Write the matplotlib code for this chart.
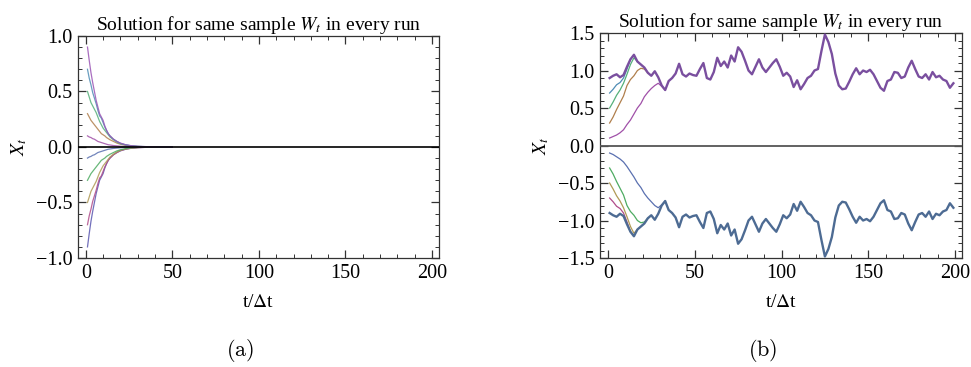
import numpy as np
import matplotlib
matplotlib.use("Agg")
import matplotlib.pyplot as plt
from matplotlib.ticker import MultipleLocator, FuncFormatter

plt.rcParams['font.family'] = ['Liberation Serif', 'DejaVu Serif']
plt.rcParams['mathtext.fontset'] = 'stix'

# ---------------- data: panel (a), decaying solutions ----------------
t_a = [1, 2, 3, 4, 5, 6, 7, 8, 9, 10, 11, 12, 13, 14, 16, 18, 20, 23, 26, 30, 35, 40, 50]

a_p09 = [0.90, 0.78, 0.67, 0.58, 0.50, 0.42, 0.36, 0.30, 0.27, 0.24, 0.19, 0.15, 0.12, 0.10,
         0.07, 0.05, 0.035, 0.02, 0.012, 0.006, 0.003, 0.001, 0.0]
a_p07 = [0.70, 0.62, 0.56, 0.49, 0.44, 0.39, 0.33, 0.28, 0.26, 0.22, 0.18, 0.15, 0.12, 0.10,
         0.07, 0.05, 0.033, 0.02, 0.012, 0.006, 0.003, 0.001, 0.0]
a_p05 = [0.50, 0.45, 0.40, 0.37, 0.34, 0.31, 0.27, 0.23, 0.20, 0.17, 0.15, 0.13, 0.11, 0.09,
         0.065, 0.045, 0.03, 0.018, 0.01, 0.005, 0.002, 0.001, 0.0]
a_p03 = [0.30, 0.27, 0.24, 0.22, 0.20, 0.18, 0.16, 0.14, 0.12, 0.11, 0.10, 0.085, 0.075, 0.065,
         0.05, 0.035, 0.025, 0.015, 0.008, 0.004, 0.002, 0.001, 0.0]
a_p01 = [0.10, 0.09, 0.085, 0.075, 0.07, 0.06, 0.05, 0.045, 0.04, 0.035, 0.03, 0.025, 0.02, 0.018,
         0.013, 0.01, 0.007, 0.004, 0.002, 0.001, 0.0005, 0.0, 0.0]
a_m01 = [-0.10, -0.09, -0.085, -0.075, -0.07, -0.06, -0.05, -0.045, -0.04, -0.035, -0.03, -0.025, -0.02, -0.018,
         -0.013, -0.01, -0.007, -0.004, -0.002, -0.001, -0.0005, 0.0, 0.0]
a_m03 = [-0.30, -0.27, -0.24, -0.22, -0.20, -0.18, -0.16, -0.14, -0.12, -0.11, -0.10, -0.085, -0.075, -0.065,
         -0.05, -0.035, -0.025, -0.015, -0.008, -0.004, -0.002, -0.001, 0.0]
a_m05 = [-0.50, -0.45, -0.40, -0.37, -0.34, -0.31, -0.27, -0.23, -0.20, -0.17, -0.15, -0.13, -0.11, -0.09,
         -0.065, -0.045, -0.03, -0.018, -0.01, -0.005, -0.002, -0.001, 0.0]
a_m07 = [-0.70, -0.62, -0.56, -0.49, -0.44, -0.39, -0.33, -0.28, -0.26, -0.22, -0.18, -0.15, -0.12, -0.10,
         -0.07, -0.05, -0.033, -0.02, -0.012, -0.006, -0.003, -0.001, 0.0]
a_m09 = [-0.90, -0.78, -0.67, -0.58, -0.50, -0.42, -0.36, -0.30, -0.27, -0.24, -0.19, -0.15, -0.12, -0.10,
         -0.07, -0.05, -0.035, -0.02, -0.012, -0.006, -0.003, -0.001, 0.0]

# ---------------- data: panel (b), common path after convergence ----------------
t_b = list(range(1, 200, 2))

b_upper = [0.90, 0.93, 0.95, 0.91, 0.94, 1.05, 1.15, 1.21, 1.12, 1.08,
           1.04, 0.97, 0.93, 0.99, 0.91, 0.80, 0.74, 0.86, 0.90, 0.96,
           1.09, 0.95, 0.92, 0.96, 0.94, 0.93, 1.02, 1.10, 0.90, 0.88,
           0.98, 1.17, 1.06, 1.12, 1.04, 1.20, 1.12, 1.31, 1.25, 1.13,
           1.00, 0.95, 1.05, 1.15, 1.04, 0.98, 1.04, 1.10, 1.15, 1.05,
           0.93, 0.97, 0.92, 0.78, 0.87, 0.75, 0.82, 0.90, 0.93, 1.00,
           1.02, 1.26, 1.48, 1.38, 1.22, 0.96, 0.80, 0.75, 0.76, 0.85,
           0.95, 1.03, 0.95, 1.00, 0.98, 1.01, 0.95, 0.86, 0.77, 0.73,
           0.86, 0.88, 0.98, 0.97, 0.90, 0.92, 1.04, 1.13, 1.02, 0.92,
           0.90, 0.95, 0.88, 0.98, 0.91, 0.93, 0.88, 0.86, 0.77, 0.83]

b_lower = [-0.90, -0.93, -0.95, -0.91, -0.94, -1.05, -1.15, -1.21, -1.12, -1.08,
           -1.04, -0.97, -0.93, -0.99, -0.91, -0.80, -0.74, -0.86, -0.90, -0.96,
           -1.09, -0.95, -0.92, -0.96, -0.94, -0.93, -1.02, -1.10, -0.90, -0.88,
           -0.98, -1.17, -1.06, -1.12, -1.04, -1.20, -1.12, -1.31, -1.25, -1.13,
           -1.00, -0.95, -1.05, -1.15, -1.04, -0.98, -1.04, -1.10, -1.15, -1.05,
           -0.93, -0.97, -0.92, -0.78, -0.87, -0.75, -0.82, -0.90, -0.93, -1.00,
           -1.02, -1.26, -1.48, -1.38, -1.22, -0.96, -0.80, -0.75, -0.76, -0.85,
           -0.95, -1.03, -0.95, -1.00, -0.98, -1.01, -0.95, -0.86, -0.77, -0.73,
           -0.86, -0.88, -0.98, -0.97, -0.90, -0.92, -1.04, -1.13, -1.02, -0.92,
           -0.90, -0.95, -0.88, -0.98, -0.91, -0.93, -0.88, -0.86, -0.77, -0.83]

# transients before the runs join the common path
b_p07 = [0.70, 0.75, 0.81, 0.84, 0.90, 1.02, 1.15]
b_p05 = [0.50, 0.58, 0.67, 0.74, 0.83, 0.95, 1.08, 1.17, 1.12]
b_p03 = [0.30, 0.38, 0.48, 0.57, 0.66, 0.80, 0.88, 0.93, 1.00, 1.03, 1.02, 0.97]
b_p01 = [0.10, 0.12, 0.14, 0.17, 0.21, 0.28, 0.34, 0.42, 0.50, 0.56,
         0.65, 0.71, 0.76, 0.80, 0.83, 0.79, 0.74]
b_m01 = [-0.10, -0.12, -0.15, -0.18, -0.22, -0.28, -0.35, -0.42, -0.50, -0.56,
         -0.64, -0.70, -0.75, -0.80, -0.83, -0.79, -0.74]
b_m03 = [-0.30, -0.38, -0.48, -0.57, -0.66, -0.80, -0.88, -0.93, -1.00, -1.03, -1.02, -0.97]
b_m05 = [-0.50, -0.58, -0.67, -0.74, -0.83, -0.95, -1.08, -1.17, -1.12]
b_m07 = [-0.70, -0.75, -0.81, -0.84, -0.90, -1.02, -1.15]

# Mathematica-like default colours
c_blue1 = '#5a57b0'
c_mag = '#b04c8a'
c_olive = '#b09a55'
c_green = '#4eab62'
c_blue = '#5a70b0'
c_purp = '#a050a8'
c_brown = '#b07f4c'
c_green2 = '#55b07a'
c_teal = '#4f8db5'
c_purp2 = '#9a55b5'

title = r'Solution for same sample $W_t$ in every run'


def fmt(v, pos):
    s = '%.1f' % abs(v)
    return ('\u2212' + s) if v < -1e-9 else s


def style_axes(ax, ylim, ymaj):
    ax.set_xlim(-4.5, 204)
    ax.set_ylim(*ylim)
    ax.xaxis.set_major_locator(MultipleLocator(50))
    ax.xaxis.set_minor_locator(MultipleLocator(10))
    ax.yaxis.set_major_locator(MultipleLocator(ymaj))
    ax.yaxis.set_minor_locator(MultipleLocator(0.1))
    ax.yaxis.set_major_formatter(FuncFormatter(fmt))
    ax.tick_params(which='both', direction='in', top=True, right=True,
                   color='#333333', labelsize=14.5)
    ax.tick_params(which='major', length=6, width=0.9, pad=4)
    ax.tick_params(which='minor', length=3, width=0.7)
    for s in ax.spines.values():
        s.set_color('#333333')
        s.set_linewidth(0.9)
    ax.set_xlabel(r't/$\Delta$t', fontsize=14, labelpad=8)
    ax.set_ylabel(r'$X_t$', fontsize=14, labelpad=5)
    ax.set_title(title, fontsize=14, pad=4)


fig = plt.figure(figsize=(9.71, 3.67), dpi=100)
ax_a = fig.add_axes([0.0803, 0.297, 0.3718, 0.605])
ax_b = fig.add_axes([0.618, 0.297, 0.3728, 0.613])

# panel (a)
lw = 0.9
for vals, col in [(a_m09, c_blue1), (a_m07, c_mag), (a_m05, c_olive), (a_m03, c_green),
                  (a_m01, c_blue), (a_p01, c_purp), (a_p03, c_brown), (a_p05, c_green2),
                  (a_p07, c_teal), (a_p09, c_purp2)]:
    ax_a.plot(t_a, vals, color=col, lw=lw, alpha=0.85)
ax_a.axhline(0, color='black', lw=1.2, zorder=5)
style_axes(ax_a, (-1.0, 1.0), 0.5)

# panel (b)
ax_b.plot(t_b, b_lower, color='#4d6b93', lw=1.7, zorder=3)
ax_b.plot(t_b, b_upper, color='#7a4f9f', lw=1.7, zorder=3)
for vals, col in [(b_m07, c_mag), (b_m05, c_olive), (b_m03, c_green), (b_m01, c_blue),
                  (b_p01, c_purp), (b_p03, c_brown), (b_p05, c_green2), (b_p07, c_teal)]:
    ax_b.plot(t_b[:len(vals)], vals, color=col, lw=lw, zorder=2)
ax_b.axhline(0, color='#555555', lw=1.3, zorder=5)
style_axes(ax_b, (-1.5, 1.5), 0.5)

fig.text(0.247, 0.03, r'$\mathrm{(a)}$', math_fontfamily='cm', fontsize=16, ha='center')
fig.text(0.786, 0.03, r'$\mathrm{(b)}$', math_fontfamily='cm', fontsize=16, ha='center')

fig.savefig('out.png', dpi=100)
